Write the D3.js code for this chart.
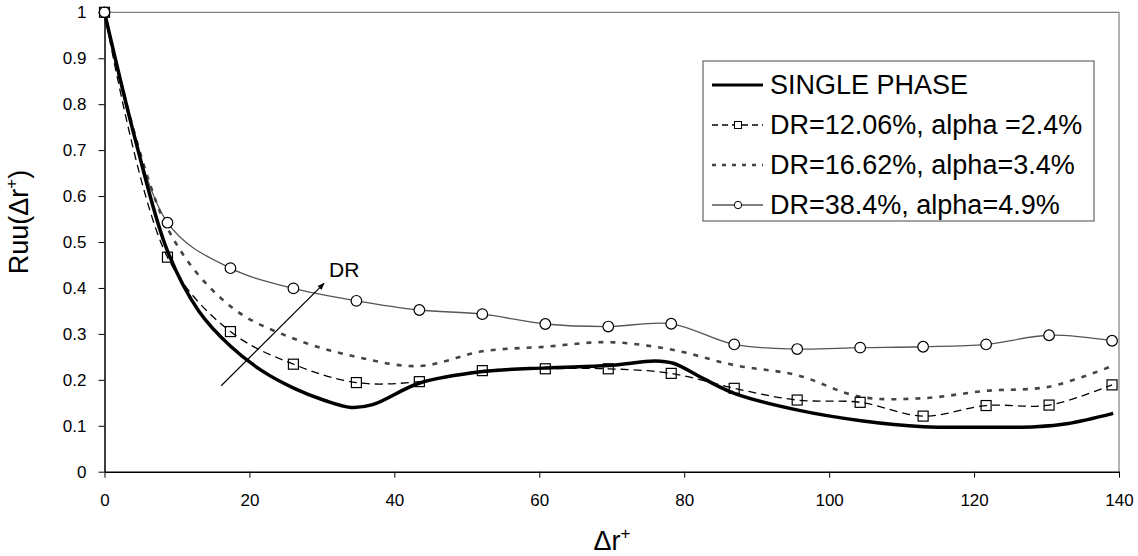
<!DOCTYPE html>
<html>
<head>
<meta charset="utf-8">
<script src="https://cdn.jsdelivr.net/npm/d3@7"></script>
<style>
  body { margin: 0; background: #fff; }
  svg { display: block; font-family: 'Liberation Sans', Arial, sans-serif; }
  .axis text { font-size: 17px; fill: #000; }
  .axis path, .axis line { stroke: #000; }
</style>
</head>
<body>
<div id="chart"></div>
<script>
'use strict';

// Data
let gridX = [0, 8.69, 17.38, 26.07, 34.76, 43.45, 52.14, 60.83, 69.52, 78.21, 86.9, 95.59, 104.28, 112.97, 121.66, 130.35, 139.04];

let singleX = [0, 4.3, 8.7, 13, 17.4, 21.7, 26.1, 30.4, 34, 37, 43.5, 52.2, 60.9, 69.6, 76, 78.5, 82.6, 87, 95.7, 104.4, 113, 121.8, 128.5, 133, 139.2];
let singleY = [1, 0.72, 0.48, 0.35, 0.273, 0.22, 0.182, 0.155, 0.14, 0.146, 0.193, 0.218, 0.226, 0.231, 0.241, 0.236, 0.203, 0.17, 0.134, 0.111, 0.098, 0.097, 0.098, 0.105, 0.127];

let dr12Y = [1, 0.467, 0.305, 0.234, 0.194, 0.196, 0.22, 0.224, 0.224, 0.214, 0.1815, 0.156, 0.151, 0.121, 0.144, 0.145, 0.189];
let dr16Y = [1, 0.53, 0.36, 0.29, 0.25, 0.23, 0.262, 0.272, 0.282, 0.266, 0.232, 0.21, 0.163, 0.16, 0.176, 0.185, 0.23];
let dr38Y = [1, 0.542, 0.443, 0.399, 0.372, 0.352, 0.343, 0.3215, 0.316, 0.322, 0.277, 0.267, 0.27, 0.272, 0.277, 0.297, 0.285];

let legendLabels = ['SINGLE PHASE', 'DR=12.06%, alpha =2.4%', 'DR=16.62%, alpha=3.4%', 'DR=38.4%, alpha=4.9%'];
let xTicks = [0, 20, 40, 60, 80, 100, 120, 140];
let yTicks = [0, 0.1, 0.2, 0.3, 0.4, 0.5, 0.6, 0.7, 0.8, 0.9, 1];
let arrowFrom = [16.1, 0.187];
let arrowTo = [30.3, 0.41];

// Formatting
let format = {
  width: 1138,
  height: 556,
  left: 104.5,
  right: 19,
  top: 12.3,
  bottom: 84.3,
};

let zip = (xs, ys) => xs.map((x, i) => ({x: x, y: ys[i]}));

function setup(){
  let svg = d3.select('#chart').append('svg')
    .attr('width', format.width)
    .attr('height', format.height);

  let xScale = d3.scaleLinear().domain([0, 140]).range([format.left, format.width - format.right]);
  let yScale = d3.scaleLinear().domain([0, 1]).range([format.height - format.bottom, format.top]);

  // plot frame (top/right in grey)
  svg.append('path')
    .attr('d', `M${xScale(0)},${yScale(1)}H${xScale(140)}V${yScale(0)}`)
    .attr('fill', 'none')
    .attr('stroke', '#808080')
    .attr('stroke-width', 1.2);

  // Axes
  svg.append('g')
    .attr('class', 'axis')
    .attr('transform', `translate(0,${yScale(0)})`)
    .call(d3.axisBottom(xScale).tickValues(xTicks).tickSize(6).tickSizeOuter(0).tickPadding(16))
    .call(g => g.select('.domain').attr('stroke-width', 1.5));

  svg.append('g')
    .attr('class', 'axis')
    .attr('transform', `translate(${xScale(0)},0)`)
    .call(d3.axisLeft(yScale).tickValues(yTicks).tickFormat(d3.format('')).tickSize(6).tickSizeOuter(0).tickPadding(12))
    .call(g => g.select('.domain').attr('stroke-width', 1.5));

  // Axis titles
  let xt = svg.append('text')
    .attr('x', 612)
    .attr('y', 550)
    .attr('text-anchor', 'middle')
    .style('font-size', '27px');
  xt.append('tspan').text('\u0394r');
  xt.append('tspan').attr('dy', -11).style('font-size', '17px').text('+');

  let yt = svg.append('text')
    .attr('transform', 'translate(28,222) rotate(-90)')
    .attr('text-anchor', 'middle')
    .style('font-size', '27px');
  yt.append('tspan').text('Ruu(\u0394r');
  yt.append('tspan').attr('dy', -11).style('font-size', '17px').text('+');
  yt.append('tspan').attr('dy', 11).text(')');

  let line = d3.line()
    .x(d => xScale(d.x))
    .y(d => yScale(d.y))
    .curve(d3.curveCatmullRom.alpha(0.5));

  let series = [
    {data: zip(gridX, dr38Y), stroke: '#555', width: 1.3, dash: null, marker: 'circle'},
    {data: zip(gridX, dr16Y), stroke: '#444', width: 2.6, dash: '5,7', marker: null},
    {data: zip(gridX, dr12Y), stroke: '#000', width: 1.3, dash: '8,5', marker: 'square'},
    {data: zip(singleX, singleY), stroke: '#000', width: 3.5, dash: null, marker: null},
  ];

  series.forEach(s => {
    svg.append('path')
      .datum(s.data)
      .attr('d', line)
      .attr('fill', 'none')
      .attr('stroke', s.stroke)
      .attr('stroke-width', s.width)
      .attr('stroke-dasharray', s.dash);
  });

  // markers
  svg.append('g').selectAll('circle')
    .data(series[0].data)
    .enter()
    .append('circle')
    .attr('cx', d => xScale(d.x))
    .attr('cy', d => yScale(d.y))
    .attr('r', 5.3)
    .attr('fill', '#fff')
    .attr('stroke', '#000')
    .attr('stroke-width', 1.2);

  svg.append('g').selectAll('rect')
    .data(series[2].data)
    .enter()
    .append('rect')
    .attr('x', d => xScale(d.x) - 5)
    .attr('y', d => yScale(d.y) - 5)
    .attr('width', 10)
    .attr('height', 10)
    .attr('fill', '#fff')
    .attr('fill-opacity', 0)
    .attr('stroke', '#000')
    .attr('stroke-width', 1.2);

  // DR arrow
  svg.append('defs').append('marker')
    .attr('id', 'arrow')
    .attr('viewBox', '0 0 10 10')
    .attr('refX', 9).attr('refY', 5)
    .attr('markerWidth', 6).attr('markerHeight', 6)
    .attr('orient', 'auto')
    .append('path').attr('d', 'M0,1L10,5L0,9z').attr('fill', '#000');

  svg.append('line')
    .attr('x1', xScale(arrowFrom[0])).attr('y1', yScale(arrowFrom[1]))
    .attr('x2', xScale(arrowTo[0])).attr('y2', yScale(arrowTo[1]))
    .attr('stroke', '#000')
    .attr('stroke-width', 1.2)
    .attr('marker-end', 'url(#arrow)');

  svg.append('text')
    .attr('x', xScale(arrowTo[0]) + 5)
    .attr('y', yScale(arrowTo[1]) - 6)
    .style('font-size', '21px')
    .text('DR');

  // Legend
  let legend = svg.append('g');
  legend.append('rect')
    .attr('x', 703).attr('y', 61)
    .attr('width', 391).attr('height', 160)
    .attr('fill', '#fff')
    .attr('stroke', '#666')
    .attr('stroke-width', 1.2);

  let rowY = [85, 125, 165, 205];
  let legStyle = [series[3], series[0 + 2], series[1], series[0]];
  legStyle.forEach((s, i) => {
    let y = rowY[i];
    legend.append('line')
      .attr('x1', 712).attr('x2', 763)
      .attr('y1', y).attr('y2', y)
      .attr('stroke', s.stroke)
      .attr('stroke-width', s.width === 3.5 ? 3 : s.width)
      .attr('stroke-dasharray', s.dash === '8,5' ? '6,4' : (s.dash ? '4,6' : null));
    if(s.marker === 'square'){
      legend.append('rect')
        .attr('x', 734.5).attr('y', y - 3.5)
        .attr('width', 7).attr('height', 7)
        .attr('fill', '#fff').attr('stroke', '#000').attr('stroke-width', 1);
    }
    if(s.marker === 'circle'){
      legend.append('circle')
        .attr('cx', 738).attr('cy', y).attr('r', 3.7)
        .attr('fill', '#fff').attr('stroke', '#000').attr('stroke-width', 1);
    }
    legend.append('text')
      .attr('x', 770)
      .attr('y', y)
      .attr('dy', '0.35em')
      .style('font-size', '27px')
      .text(legendLabels[i]);
  });
}

window.onload = setup;
</script>
</body>
</html>
